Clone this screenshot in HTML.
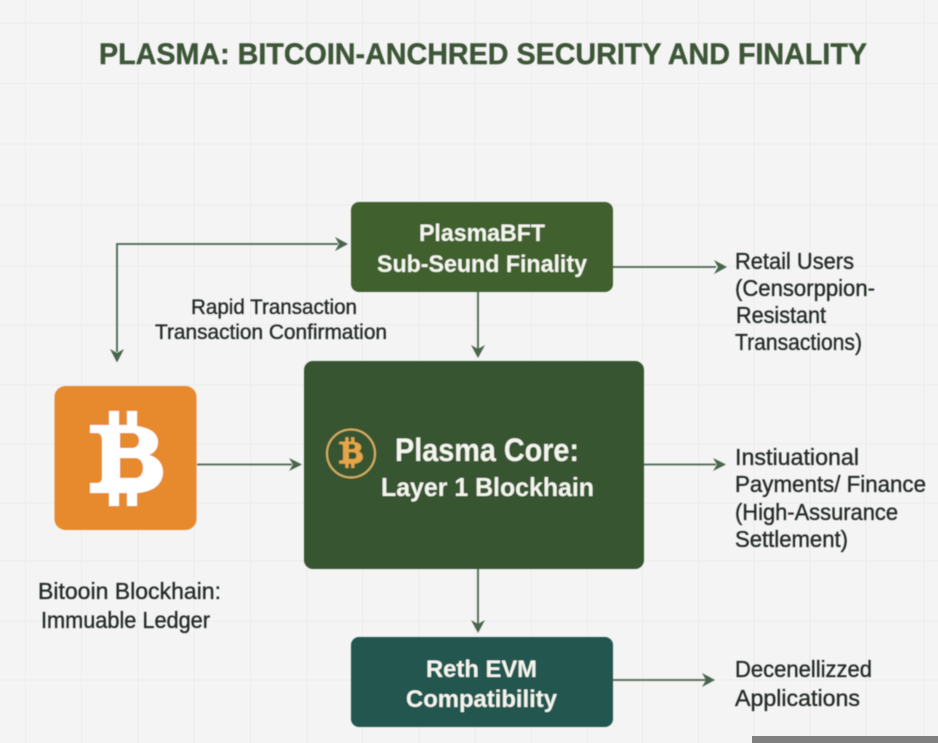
<!DOCTYPE html>
<html><head><meta charset="utf-8"><style>html,body{margin:0;padding:0;background:#f4f4f4}svg{display:block}text{font-family:"Liberation Sans",sans-serif}</style></head>
<body>
<svg width="938" height="743" viewBox="0 0 938 743" xmlns="http://www.w3.org/2000/svg">
<defs><filter id="b" x="-5%" y="-5%" width="110%" height="110%"><feGaussianBlur stdDeviation="0.45"/></filter></defs>
<rect width="938" height="743" fill="#f4f4f4"/>
<g stroke="#eeeeee" stroke-width="1.200" fill="none">
<path d="M25.500 0V743M81.500 0V743M138 0V743M194 0V743M250.500 0V743M307 0V743M362.500 0V743M419 0V743M475 0V743M531.500 0V743M587.500 0V743M642.500 0V743M698.500 0V743M754 0V743M810 0V743M866 0V743M924 0V743"/>
<path d="M0 23H938M0 83.500H938M0 144H938M0 205H938M0 266H938M0 325H938M0 385H938M0 444H938M0 503H938M0 561H938M0 621H938M0 680H938"/>
</g>
<g filter="url(#b)">
<text x="99" y="64" font-size="29.500" font-weight="700" fill="#3e5638" stroke="#3e5638" stroke-width="0.400" textLength="768" lengthAdjust="spacingAndGlyphs">PLASMA: BITCOIN-ANCHRED SECURITY AND FINALITY</text>

<g fill="none" stroke="#4a654d" stroke-width="1.800">
<path d="M117 352V244H338"/>
<path d="M613 267H716"/>
<path d="M478 292V349"/>
<path d="M197 464.500H292"/>
<path d="M644 464.500H716"/>
<path d="M478 569V624"/>
<path d="M613 680H706"/>
</g>
<g fill="#4a654d">
<path d="M348 244L335 237L339 244L335 251Z"/>
<path d="M117 362.500L110 349L117 353L124 349Z"/>
<path d="M727 267L714 260L718 267L714 274Z"/>
<path d="M478 358L471 345L478 349L485 345Z"/>
<path d="M302 464.500L289 458L293 464.500L289 471Z"/>
<path d="M726 464.500L713 458L717 464.500L713 471Z"/>
<path d="M478 633L471 620L478 624L485 620Z"/>
<path d="M715 680L702 673L706 680L702 687Z"/>
</g>

<rect x="351" y="202" width="262" height="90" rx="8" fill="#41602f"/>
<rect x="304" y="361" width="340" height="208" rx="9" fill="#375431"/>
<rect x="351" y="637" width="262" height="90" rx="8" fill="#235750"/>
<rect x="54.500" y="386" width="142" height="144" rx="11" fill="#e78a2e"/>

<path fill="#fff" fill-rule="evenodd" d="M109 411H119V425H127V411H137V426C150 428 158 433 158 442C158 449 154 453 149 455C157 457 163 463 163 472C163 485 152 492 137 493V506H127V493H119V506H109V493H90V483H97C100 483 102 481 102 478V440C102 436 100 433 97 433H90V425H109ZM120 433V448H132C136 448 139 445 139 440.500C139 436 136 433 132 433ZM120 458V478H135C140 478 143 474 143 468C143 462 140 458 135 458Z"/>

<circle cx="351" cy="453.500" r="24" fill="none" stroke="#d6ae63" stroke-width="2"/>
<path transform="translate(351 452.500) scale(.325) translate(-126.500 -458.500)" fill="#e5a54a" fill-rule="evenodd" d="M109 411H119V425H127V411H137V426C150 428 158 433 158 442C158 449 154 453 149 455C157 457 163 463 163 472C163 485 152 492 137 493V506H127V493H119V506H109V493H90V483H97C100 483 102 481 102 478V440C102 436 100 433 97 433H90V425H109ZM120 433V448H132C136 448 139 445 139 440.500C139 436 136 433 132 433ZM120 458V478H135C140 478 143 474 143 468C143 462 140 458 135 458Z"/>

<g fill="#f4f5ee" font-weight="700">
<text x="419" y="241" font-size="24" textLength="126" lengthAdjust="spacingAndGlyphs">PlasmaBFT</text>
<text x="377" y="272" font-size="24" textLength="210" lengthAdjust="spacingAndGlyphs">Sub-Seund Finality</text>
<text x="395" y="461" font-size="32" textLength="184" lengthAdjust="spacingAndGlyphs">Plasma Core:</text>
<text x="381" y="496" font-size="26" textLength="213" lengthAdjust="spacingAndGlyphs">Layer 1 Blockhain</text>
<text x="426" y="677" font-size="24" textLength="111" lengthAdjust="spacingAndGlyphs">Reth EVM</text>
<text x="406" y="707" font-size="24" textLength="151" lengthAdjust="spacingAndGlyphs">Compatibility</text>
</g>

<g fill="#252a28" font-size="23" stroke="#252a28" stroke-width="0.350">
<text x="191" y="314" font-size="21" textLength="166" lengthAdjust="spacingAndGlyphs">Rapid Transaction</text>
<text x="155" y="339" font-size="21" textLength="232" lengthAdjust="spacingAndGlyphs">Transaction Confirmation</text>
<text x="735" y="269" textLength="119" lengthAdjust="spacingAndGlyphs">Retail Users</text>
<text x="735" y="296" textLength="140" lengthAdjust="spacingAndGlyphs">(Censorppion-</text>
<text x="736" y="323" textLength="90" lengthAdjust="spacingAndGlyphs">Resistant</text>
<text x="735" y="350" textLength="127" lengthAdjust="spacingAndGlyphs">Transactions)</text>
<text x="735" y="465" textLength="124" lengthAdjust="spacingAndGlyphs">Instiuational</text>
<text x="735" y="492" textLength="191" lengthAdjust="spacingAndGlyphs">Payments/ Finance</text>
<text x="735" y="520" textLength="163" lengthAdjust="spacingAndGlyphs">(High-Assurance</text>
<text x="735" y="547" textLength="113" lengthAdjust="spacingAndGlyphs">Settlement)</text>
<text x="38" y="599" textLength="183" lengthAdjust="spacingAndGlyphs">Bitooin Blockhain:</text>
<text x="41" y="628" textLength="169" lengthAdjust="spacingAndGlyphs">Immuable Ledger</text>
<text x="735" y="677" textLength="137" lengthAdjust="spacingAndGlyphs">Decenellizzed</text>
<text x="735" y="706" textLength="125" lengthAdjust="spacingAndGlyphs">Applications</text>
</g>
</g>
<rect x="752" y="736" width="186" height="7" fill="#808080"/>
</svg>
</body></html>
